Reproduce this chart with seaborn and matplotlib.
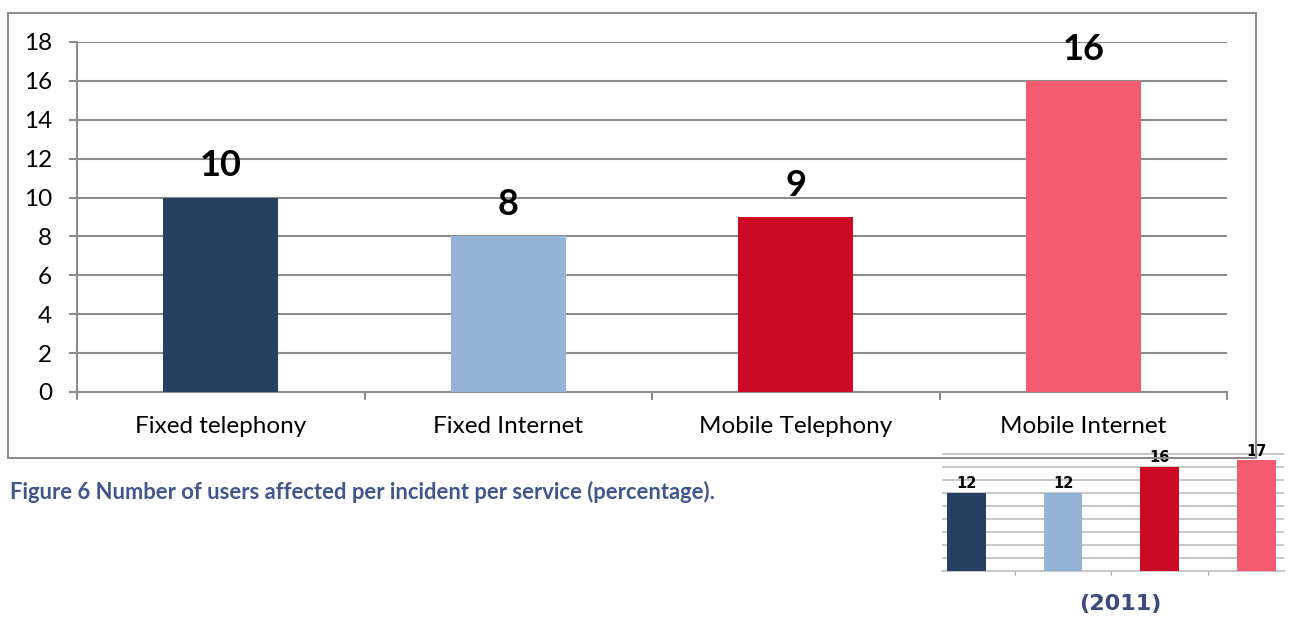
import matplotlib
matplotlib.use("Agg")
import matplotlib.pyplot as plt
import seaborn as sns
import pandas as pd
from matplotlib.patches import Rectangle

# Services and share of users affected per incident
services = ["Fixed telephony", "Fixed Internet", "Mobile Telephony", "Mobile Internet"]
values_current = [10, 8, 9, 16]
values_2011 = [12, 12, 16, 17]
bar_colors = ["#264061", "#95B3D7", "#CD0A23", "#F45B6E"]
y_ticks = [0, 2, 4, 6, 8, 10, 12, 14, 16, 18]
caption = "Figure 6 Number of users affected per incident per service (percentage)."
inset_label = "(2011)"

sns.set_theme(style="white")
plt.rcParams["font.family"] = ["Lato", "DejaVu Sans"]

GRID = "#8C8C8C"
fig = plt.figure(figsize=(12.92, 6.17), dpi=100)

# Outer frame around the main chart
fig.patches.append(Rectangle((8 / 1292, 1 - 458 / 617), (1256 - 8) / 1292, (458 - 13) / 617,
                             transform=fig.transFigure, fill=False, edgecolor="#8C8C8C",
                             linewidth=1.5, zorder=0))

# Main bar chart
ax = fig.add_axes([77 / 1292, 225 / 617, 1150 / 1292, 350 / 617])
df = pd.DataFrame({"service": services, "value": values_current})
sns.barplot(data=df, x="service", y="value", hue="service", palette=bar_colors,
            width=0.4, legend=False, ax=ax, saturation=1, zorder=3, linewidth=0)
ax.set_xlim(-0.5, len(services) - 0.5)
ax.set_ylim(0, 18)
ax.set_yticks(y_ticks)
ax.set_yticklabels([str(t) for t in y_ticks], fontsize=17.5, color="#000000")
ax.yaxis.grid(True, color=GRID, linewidth=1.5, zorder=0)
ax.set_axisbelow(True)
ax.set_xlabel("")
ax.set_ylabel("")
ax.set_xticks(range(len(services)))
ax.set_xticklabels(services, fontsize=17.5, color="#000000")
ax.tick_params(axis="x", length=0, pad=17)
ax.tick_params(axis="y", length=6, width=1.5, color=GRID, direction="out", pad=12, left=True)
# category separator ticks on the x axis
ax.set_xticks([i - 0.5 for i in range(len(services) + 1)], minor=True)
ax.tick_params(axis="x", which="minor", length=6, width=1.5, color=GRID, direction="out", bottom=True)
for side in ["top", "right"]:
    ax.spines[side].set_visible(False)
for side in ["left", "bottom"]:
    ax.spines[side].set_color(GRID)
    ax.spines[side].set_linewidth(1.5)
for i, v in enumerate(values_current):
    ax.annotate(str(v), (i, v), xytext=(0, 11), textcoords="offset points",
                ha="center", va="bottom", fontsize=26, fontweight="bold", color="#000000")

# Caption below the frame
fig.text(10 / 1292, 1 - 492 / 617, caption, fontsize=15.8, fontweight="bold",
         color="#41568A", ha="left", va="center")

# Small 2011 comparison chart
ax2 = fig.add_axes([942 / 1292, 46 / 617, 342 / 1292, 125 / 617])
ax2.set_facecolor("white")
df2 = pd.DataFrame({"service": services, "value": values_2011})
sns.barplot(data=df2, x="service", y="value", hue="service", palette=bar_colors,
            width=0.4, legend=False, ax=ax2, saturation=1, zorder=3, linewidth=0)
ax2.set_xlim(-0.252, 3.285)
ax2.set_ylim(0, 19.2)
ax2.set_yticks(y_ticks[1:])
ax2.set_yticklabels([])
ax2.yaxis.grid(True, color="#BDBDBD", linewidth=1.2, zorder=0)
ax2.set_axisbelow(True)
ax2.tick_params(axis="y", length=0)
ax2.set_xticks([0.5, 1.5, 2.5])
ax2.set_xticklabels([])
ax2.tick_params(axis="x", length=3, width=0.8, color="#A0A0A0", direction="out", bottom=True)
ax2.set_xlabel("")
ax2.set_ylabel("")
for side in ["top", "right", "left"]:
    ax2.spines[side].set_visible(False)
ax2.spines["bottom"].set_color("#BDBDBD")
ax2.spines["bottom"].set_linewidth(1.2)
for i, v in enumerate(values_2011):
    ax2.annotate(str(v), (i, v), xytext=(0, 1), textcoords="offset points",
                 ha="center", va="bottom", fontsize=10.5, fontweight="bold",
                 color="#000000", family="DejaVu Sans")

fig.text(1120 / 1292, 1 - 604 / 617, inset_label, fontsize=16, fontweight="bold",
         color="#3C4A80", ha="center", va="center", family="DejaVu Sans")

fig.savefig("out.png", dpi=100, facecolor="white")
